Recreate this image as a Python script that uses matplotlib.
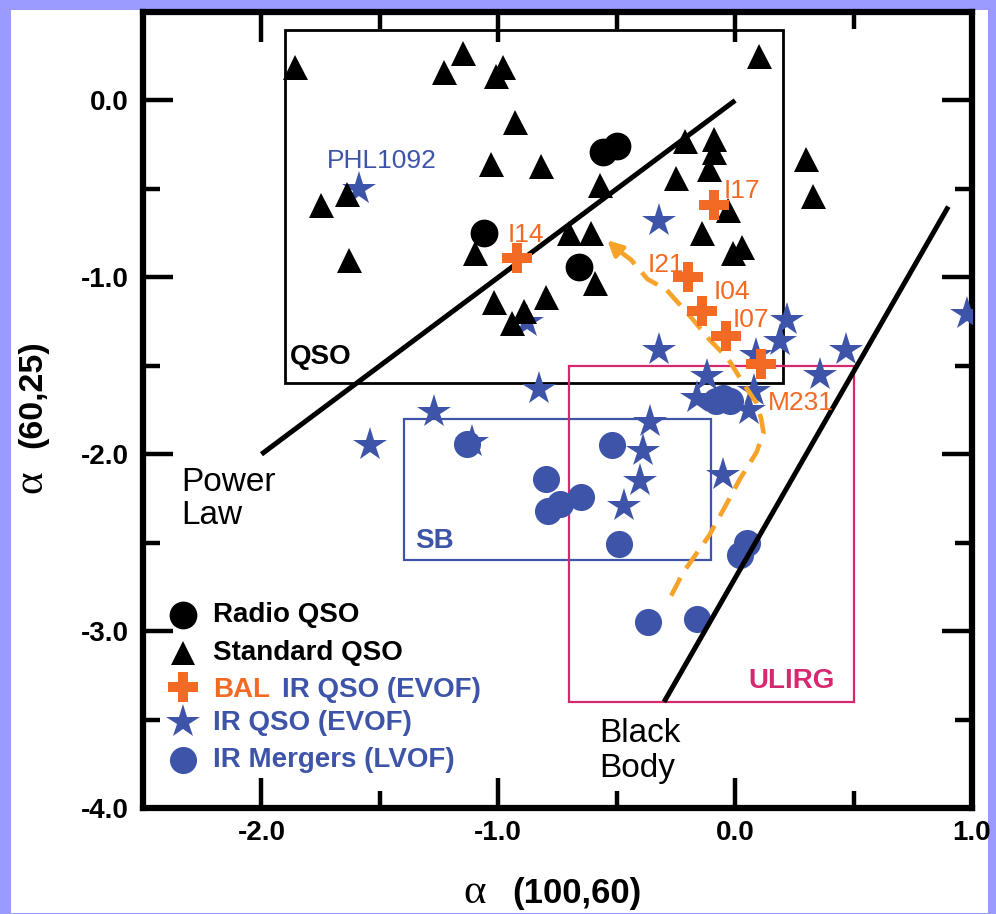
import matplotlib
matplotlib.use("Agg")
import matplotlib.pyplot as plt
from matplotlib.patches import Rectangle

plt.rcParams['font.family'] = ['Liberation Sans', 'DejaVu Sans']

# ---------------- data ----------------
# Standard QSO (black triangles)
std_x = [-1.86, -1.23, -1.15, -1.01, -0.98, -0.93, -1.03, -0.82, -1.75, -1.64,
         -1.63, -1.10, -1.02, -0.89, -0.94, -0.80, -0.57, -0.70, -0.61, -0.59,
         -0.21, -0.09, -0.09, -0.11, -0.25, -0.03, -0.14, -0.01, 0.03, 0.30,
         0.33, 0.10]
std_y = [0.19, 0.16, 0.27, 0.14, 0.19, -0.12, -0.36, -0.37, -0.59, -0.53,
         -0.90, -0.86, -1.14, -1.19, -1.26, -1.11, -0.48, -0.75, -0.75, -1.03,
         -0.23, -0.22, -0.29, -0.39, -0.44, -0.62, -0.75, -0.86, -0.83, -0.33,
         -0.54, 0.25]

# Radio QSO (black circles)
radio_x = [-1.06, -0.56, -0.50, -0.66]
radio_y = [-0.75, -0.29, -0.26, -0.94]

# BAL IR QSO (orange crosses)
bal_names = ['I14', 'I17', 'I21', 'I04', 'I07', 'M231']
bal_x = [-0.92, -0.09, -0.20, -0.14, -0.04, 0.11]
bal_y = [-0.89, -0.59, -1.00, -1.19, -1.33, -1.49]
bal_label_x = [-0.96, -0.05, -0.37, -0.09, -0.01, 0.14]
bal_label_y = [-0.80, -0.55, -0.97, -1.12, -1.28, -1.75]

# IR QSO (EVOF) (blue stars)
irq_x = [-1.59, -0.88, -1.54, -1.27, -0.83, -1.11, -0.32, -0.32, 0.22, 0.19,
         0.09, 0.47, 0.36, -0.12, 0.08, 0.06, -0.16, -0.36, -0.39, -0.40,
         -0.47, -0.05, 0.98]
irq_y = [-0.50, -1.25, -1.95, -1.76, -1.63, -1.93, -0.68, -1.41, -1.24, -1.36,
         -1.44, -1.41, -1.55, -1.56, -1.64, -1.75, -1.68, -1.82, -1.98, -2.15,
         -2.29, -2.12, -1.21]

# IR Mergers (LVOF) (blue circles)
mrg_x = [-1.13, -0.80, -0.79, -0.74, -0.65, -0.52, -0.49, 0.05, 0.02, -0.37,
         -0.16, -0.08, -0.05, -0.02]
mrg_y = [-1.94, -2.14, -2.32, -2.28, -2.24, -1.95, -2.51, -2.50, -2.57, -2.95,
         -2.93, -1.70, -1.68, -1.70]

# labelled object
phl_name = 'PHL1092'
phl_label_x, phl_label_y = -1.725, -0.38

# region boxes: (x0, x1, y0, y1)
qso_box = [-1.9, 0.2, -1.6, 0.4]
sb_box = [-1.4, -0.1, -2.6, -1.8]
ulirg_box = [-0.7, 0.5, -3.4, -1.5]

# model lines
power_law_x = [-2.0, 0.0]
power_law_y = [-2.0, 0.0]
black_body_x = [-0.3, 0.9]
black_body_y = [-3.4, -0.6]

# evolution track (dashed orange arrow)
track_x = [-0.27, -0.22, -0.11, -0.04, 0.02, 0.09, 0.12, 0.11, 0.09, 0.03,
           -0.03, -0.11, -0.19, -0.29, -0.37, -0.44, -0.50]
track_y = [-2.80, -2.67, -2.46, -2.29, -2.14, -1.99, -1.88, -1.80, -1.71, -1.59,
           -1.46, -1.35, -1.22, -1.07, -1.01, -0.90, -0.84]
track_tip = (-0.54, -0.79)

# axes ticks
xticks = [-2.0, -1.0, 0.0, 1.0]
xtick_labels = ['-2.0', '-1.0', '0.0', '1.0']
xminor = [-1.5, -0.5, 0.5]
yticks = [-4.0, -3.0, -2.0, -1.0, 0.0]
ytick_labels = ['-4.0', '-3.0', '-2.0', '-1.0', '0.0']
yminor = [-3.5, -2.5, -1.5, -0.5]

legend_labels = ['Radio QSO', 'Standard QSO', 'BAL', 'IR QSO (EVOF)',
                 'IR QSO (EVOF)', 'IR Mergers (LVOF)']

# ---------------- style ----------------
BLUE = '#3D54A8'
ORANGE = '#F26A24'
TRACK = '#F7A32A'
MAGENTA = '#D6286F'
LAV = '#9B9BFD'

W, H = 996, 914
fig = plt.figure(figsize=(W / 100, H / 100), dpi=100, facecolor=LAV)
fig.add_artist(Rectangle((11 / W, 1 / H), 977 / W, 903 / H, transform=fig.transFigure,
                         facecolor='white', edgecolor='none', zorder=-10))
ax = fig.add_axes([143 / W, 1 - 808 / H, 829 / W, 796 / H])
ax.set_facecolor('white')
ax.set_xlim(-2.5, 1.0)
ax.set_ylim(-4.0, 0.5)

# boxes
for box, col, lw in [(qso_box, 'black', 2.0), (sb_box, BLUE, 1.6), (ulirg_box, MAGENTA, 1.6)]:
    ax.add_patch(Rectangle((box[0], box[2]), box[1] - box[0], box[3] - box[2],
                           fill=False, edgecolor=col, linewidth=lw, zorder=1))

# points
ax.plot(irq_x, irq_y, linestyle='none', marker='*', markersize=25.5, color=BLUE,
        markeredgewidth=0, zorder=3)
ax.plot(mrg_x, mrg_y, linestyle='none', marker='o', markersize=19.5, color=BLUE,
        markeredgewidth=0, zorder=4)
ax.plot(std_x, std_y, linestyle='none', marker='^', markersize=18, color='black',
        markeredgewidth=0, zorder=5)
ax.plot(radio_x, radio_y, linestyle='none', marker='o', markersize=20, color='black',
        markeredgewidth=0, zorder=5)

# model lines
ax.plot(power_law_x, power_law_y, color='black', linewidth=3.6, solid_capstyle='butt', zorder=6)
ax.plot(black_body_x, black_body_y, color='black', linewidth=3.6, solid_capstyle='butt', zorder=6)

# track
ax.plot(track_x, track_y, color=TRACK, linewidth=3.3, dashes=(4.4, 2.4), zorder=7)
ax.annotate('', xy=track_tip, xytext=(track_x[-1], track_y[-1]),
            arrowprops=dict(arrowstyle='-|>', color=TRACK, lw=3.3, mutation_scale=22,
                            shrinkA=0, shrinkB=0), zorder=7)

ax.plot(bal_x, bal_y, linestyle='none', marker='P', markersize=21, color=ORANGE,
        markeredgewidth=0, zorder=8)

# labels
for name, lx, ly in zip(bal_names, bal_label_x, bal_label_y):
    ax.text(lx, ly, name, color=ORANGE, fontsize=19, ha='left', va='baseline', zorder=9)
ax.text(phl_label_x, phl_label_y, phl_name, color=BLUE, fontsize=19, ha='left',
        va='baseline', zorder=9)

ax.text(-1.882, -1.492, 'QSO', fontsize=20, fontweight='bold', color='black',
        ha='left', va='baseline')
ax.text(-1.353, -2.531, 'SB', fontsize=20, fontweight='bold', color=BLUE,
        ha='left', va='baseline')
ax.text(0.055, -3.322, 'ULIRG', fontsize=20, fontweight='bold', color=MAGENTA,
        ha='left', va='baseline')
ax.text(-2.338, -2.209, 'Power', fontsize=24, ha='left', va='baseline')
ax.text(-2.338, -2.395, 'Law', fontsize=24, ha='left', va='baseline')
ax.text(-0.575, -3.627, 'Black', fontsize=24, ha='left', va='baseline')
ax.text(-0.575, -3.825, 'Body', fontsize=24, ha='left', va='baseline')

# legend (manual, axes coordinates)
tr = ax.transAxes
mx, tx = 0.0483, 0.0844
ax.plot([mx], [0.2425], transform=tr, marker='o', markersize=20, color='black',
        markeredgewidth=0, linestyle='none', clip_on=False)
ax.plot([mx], [0.1950], transform=tr, marker='^', markersize=17, color='black',
        markeredgewidth=0, linestyle='none', clip_on=False)
ax.plot([mx], [0.1520], transform=tr, marker='P', markersize=21, color=ORANGE,
        markeredgewidth=0, linestyle='none', clip_on=False)
ax.plot([mx], [0.1075], transform=tr, marker='*', markersize=25.5, color=BLUE,
        markeredgewidth=0, linestyle='none', clip_on=False)
ax.plot([mx], [0.0603], transform=tr, marker='o', markersize=19.5, color=BLUE,
        markeredgewidth=0, linestyle='none', clip_on=False)
lkw = dict(transform=tr, fontsize=20, fontweight='bold', ha='left', va='center')
ax.text(tx, 0.2425, legend_labels[0], color='black', **lkw)
ax.text(tx, 0.1947, legend_labels[1], color='black', **lkw)
ax.text(tx, 0.1485, legend_labels[2], color=ORANGE, **lkw)
ax.text(0.1677, 0.1485, legend_labels[3], color=BLUE, **lkw)
ax.text(tx, 0.1068, legend_labels[4], color=BLUE, **lkw)
ax.text(tx, 0.0603, legend_labels[5], color=BLUE, **lkw)

# ticks & spines
ax.set_xticks(xticks)
ax.set_xticklabels(xtick_labels)
ax.set_xticks(xminor, minor=True)
ax.set_yticks(yticks)
ax.set_yticklabels(ytick_labels)
ax.set_yticks(yminor, minor=True)
ax.tick_params(which='both', direction='in', top=True, right=True, width=3.2, color='black')
ax.tick_params(which='major', length=21.5, labelsize=20)
ax.tick_params(which='minor', length=12)
ax.tick_params(axis='x', which='major', pad=9)
ax.tick_params(axis='y', which='major', pad=10)
for lbl in ax.get_xticklabels() + ax.get_yticklabels():
    lbl.set_fontweight('bold')
for sp in ax.spines.values():
    sp.set_linewidth(4.5)

# axis labels (alpha in serif, numbers in bold sans)
fig.text(463 / W, 1 - 903 / H, 'α', fontsize=31, family=['Liberation Serif', 'DejaVu Serif'],
         ha='left', va='baseline')
fig.text(512 / W, 1 - 903 / H, '(100,60)', fontsize=25, fontweight='bold',
         ha='left', va='baseline')
fig.text(41 / W, 1 - 493 / H, 'α', fontsize=31, family=['Liberation Serif', 'DejaVu Serif'],
         rotation=90, rotation_mode='anchor', ha='left', va='baseline')
fig.text(41 / W, 1 - 448 / H, '(60,25)', fontsize=24.5, fontweight='bold',
         rotation=90, rotation_mode='anchor', ha='left', va='baseline')

fig.savefig('out.png', dpi=100, facecolor=LAV)
